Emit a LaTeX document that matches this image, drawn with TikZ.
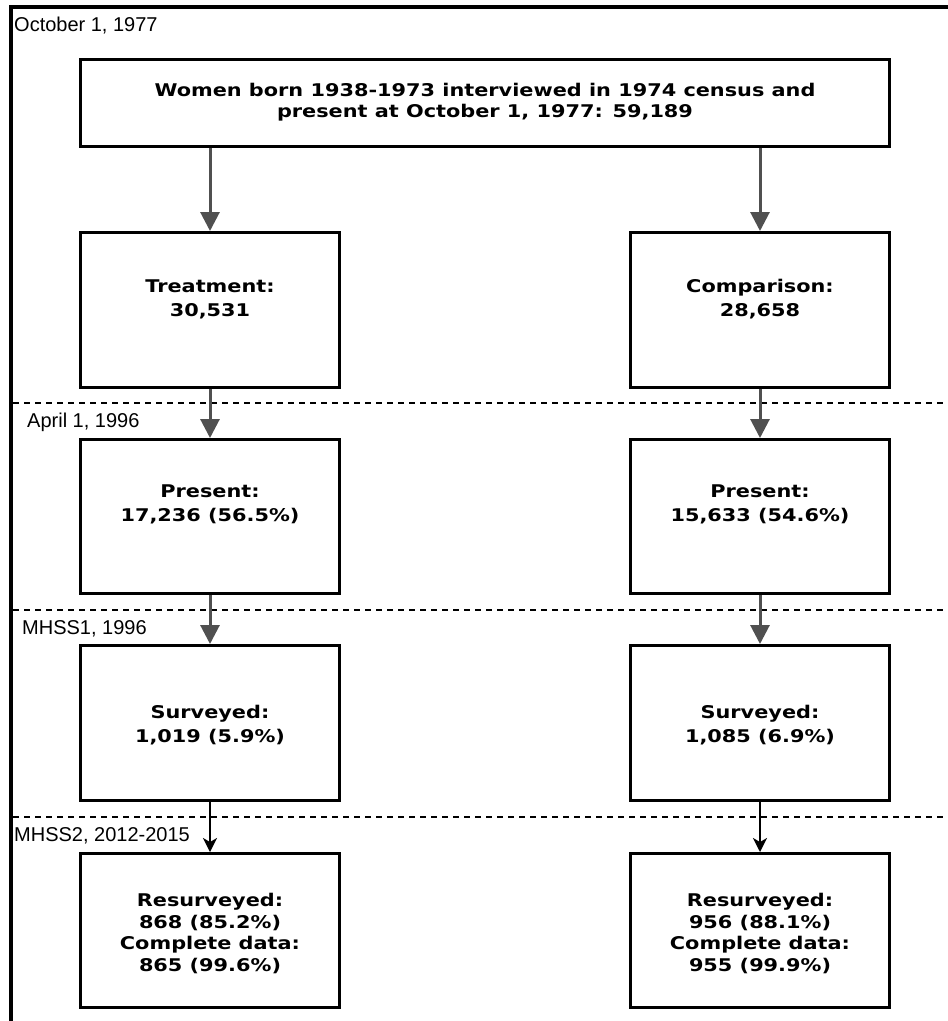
\documentclass[tikz,border=0pt]{standalone}
\usepackage{fontspec}
\setmainfont{Liberation Sans}
\newfontfamily\boxfont{DejaVu Sans}[FakeStretch=1.19]
\usetikzlibrary{arrows.meta}
\definecolor{arrgray}{RGB}{80,80,80}
\tikzset{
  box/.style={draw=black, line width=3pt, fill=white, inner sep=0pt, anchor=north west},
  boxtext/.style={align=center, inner sep=0pt, font=\boxfont\bfseries\fontsize{17.5}{#1}\selectfont},
  boxtext/.default=22,
  period/.style={anchor=west, inner sep=0pt, font=\fontsize{20}{22}\selectfont},
  grayarrow/.style={draw=arrgray, line width=3pt, -{Triangle[length=19pt,width=19pt]}},
  blackarrow/.style={draw=black, line width=1.8pt, -{Stealth[length=14pt,width=14pt,inset=4pt]}},
  divider/.style={draw=black, line width=1.3pt, dash pattern=on 6pt off 5pt},
  frameline/.style={draw=black, line width=4pt}
}
\begin{document}
\begin{tikzpicture}[x=1pt,y=-1pt]
\useasboundingbox (0,0) rectangle (948,1021);
% frame
\coordinate (fl) at (11,1021);
\coordinate (fc) at (11,6.5);
\coordinate (fr) at (948,6.5);
\draw[frameline] (fl) -- (fc) -- (fr);
% dividers
\coordinate (d1a) at (13,403); \coordinate (d1b) at (948,403);
\coordinate (d2a) at (13,610); \coordinate (d2b) at (948,610);
\coordinate (d3a) at (13,817); \coordinate (d3b) at (948,817);
\draw[divider] (d1a) -- (d1b);
\draw[divider] (d2a) -- (d2b);
\draw[divider] (d3a) -- (d3b);
% period labels
\node[period] (p0) at (14,26) {October 1, 1977};
\node[period] (p1) at (27,422) {April 1, 1996};
\node[period] (p2) at (22,629) {MHSS1, 1996};
\node[period] (p3) at (14,836) {MHSS2, 2012-2015};
% boxes
\node[box, minimum width=809, minimum height=87] (top) at (79,58) {};
\node[boxtext=21] (toptxt) at ([yshift=1pt]top.center) {Women born 1938-1973 interviewed in 1974 census and\\present at October 1, 1977: 59,189};
\node[box, minimum width=259, minimum height=155] (t1) at (79,231) {};
\node[box, minimum width=259, minimum height=155] (c1) at (629,231) {};
\node[box, minimum width=259, minimum height=154] (t2) at (79,438) {};
\node[box, minimum width=259, minimum height=154] (c2) at (629,438) {};
\node[box, minimum width=259, minimum height=155] (t3) at (79,644) {};
\node[box, minimum width=259, minimum height=155] (c3) at (629,644) {};
\node[box, minimum width=259, minimum height=154] (t4) at (79,852) {};
\node[box, minimum width=259, minimum height=154] (c4) at (629,852) {};
\node[boxtext=24] (t1txt) at ([yshift=11pt]t1.center) {Treatment:\\30,531};
\node[boxtext=24] (c1txt) at ([yshift=11pt]c1.center) {Comparison:\\28,658};
\node[boxtext=23.5] (t2txt) at ([yshift=12pt]t2.center) {Present:\\17,236 (56.5\%)};
\node[boxtext=23.5] (c2txt) at ([yshift=12pt]c2.center) {Present:\\15,633 (54.6\%)};
\node[boxtext=23.5] (t3txt) at ([yshift=-2pt]t3.center) {Surveyed:\\1,019 (5.9\%)};
\node[boxtext=23.5] (c3txt) at ([yshift=-2pt]c3.center) {Surveyed:\\1,085 (6.9\%)};
\node[boxtext=21.5] (t4txt) at ([yshift=-3pt]t4.center) {Resurveyed:\\868 (85.2\%)\\Complete data:\\865 (99.6\%)};
\node[boxtext=21.5] (c4txt) at ([yshift=-3pt]c4.center) {Resurveyed:\\956 (88.1\%)\\Complete data:\\955 (99.9\%)};
% arrows
\draw[grayarrow] (top.south -| t1.north) -- (t1.north);
\draw[grayarrow] (top.south -| c1.north) -- (c1.north);
\draw[grayarrow] (t1.south) -- (t2.north);
\draw[grayarrow] (c1.south) -- (c2.north);
\draw[grayarrow] (t2.south) -- (t3.north);
\draw[grayarrow] (c2.south) -- (c3.north);
\draw[blackarrow] (t3.south) -- (t4.north);
\draw[blackarrow] (c3.south) -- (c4.north);
\end{tikzpicture}
\end{document}
